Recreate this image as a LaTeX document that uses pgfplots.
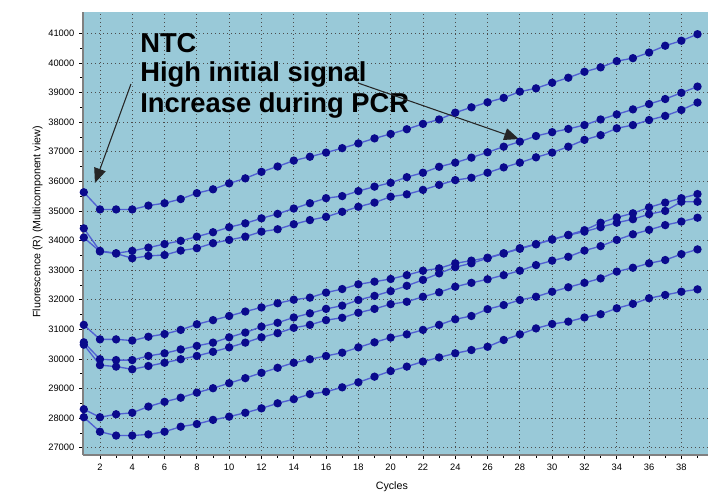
\documentclass[border=0pt]{standalone}
\usepackage{fontspec}
\setmainfont{Liberation Sans}
\usepackage{pgfplots}
\pgfplotsset{compat=1.18}
\usepackage{pgfplotstable}
\usetikzlibrary{arrows.meta}
\definecolor{bgblue}{RGB}{153,201,216}
\definecolor{mk}{RGB}{10,10,140}
\definecolor{ln}{RGB}{80,95,210}
\pgfplotstableread{
c  s1    s2    s3    s4    s5    s6    s7    s8
1  35630 34410 34100 31150 30560 30480 28300 28030
2  35050 33650 33630 30660 29990 29790 28030 27540
3  35050 33570 33560 30660 29960 29740 28130 27410
4  35050 33650 33400 30620 29960 29650 28180 27410
5  35180 33760 33480 30750 30100 29760 28390 27450
6  35260 33880 33510 30840 30190 29870 28550 27540
7  35400 33990 33660 30980 30320 29990 28690 27710
8  35600 34130 33740 31170 30440 30100 28860 27800
9  35730 34280 33910 31310 30550 30240 29010 27940
10 35930 34450 34020 31450 30730 30390 29180 28050
11 36100 34580 34130 31600 30890 30550 29350 28180
12 36320 34750 34300 31740 31090 30730 29530 28330
13 36500 34900 34380 31880 31220 30870 29700 28500
14 36700 35080 34550 32000 31400 31050 29870 28640
15 36830 35260 34690 32070 31540 31150 29990 28810
16 36970 35430 34800 32240 31690 31310 30100 28890
17 37120 35500 34970 32360 31800 31390 30210 29040
18 37280 35670 35140 32520 31990 31560 30390 29210
19 37450 35820 35280 32610 32130 31690 30560 29400
20 37600 35950 35480 32700 32290 31850 30720 29590
21 37760 36140 35560 32830 32470 31930 30830 29740
22 37940 36290 35710 32980 32670 32100 30980 29910
23 38090 36490 35880 33060 32890 32250 31150 30050
24 38320 36630 36040 33230 33100 32440 31340 30190
25 38500 36800 36120 33320 33230 32570 31450 30300
26 38670 36980 36290 33420 33400 32690 31680 30410
27 38820 37170 36470 33570 33560 32830 31820 30640
28 39030 37340 36630 33740 33720 32980 31990 30830
29 39140 37530 36810 33880 33870 33170 32100 31030
30 39330 37660 36970 34040 34030 33320 32270 31180
31 39500 37770 37170 34190 34180 33450 32420 31260
32 39700 37900 37400 34350 34300 33660 32570 31400
33 39850 38090 37560 34600 34450 33810 32720 31510
34 40060 38260 37790 34780 34600 34020 32950 31710
35 40160 38430 37900 34920 34720 34210 33080 31860
36 40350 38610 38070 35120 34890 34360 33230 32050
37 40580 38780 38210 35280 35000 34520 33340 32160
38 40750 38990 38410 35430 35310 34640 33540 32270
39 40970 39200 38660 35570 35310 34770 33700 32350
}\data
\begin{document}
\begin{tikzpicture}
\begin{axis}[name=ax, scale only axis, width=476.6pt, height=332.25pt,
  xmin=0.95, xmax=40.3, ymin=26753, ymax=41720,
  axis background/.style={fill=bgblue},
  axis x line*=bottom, axis y line*=left,
  axis line style={draw=gray, line width=1.2pt, -},
  xtick={2,4,...,40}, minor x tick num=1,
  ytick={27000,28000,...,41000}, minor y tick num=1,
  tick align=outside, major tick length=3pt, minor tick length=2pt,
  tick style={black, line width=0.6pt},
  grid=major, major grid style={draw=black!70, dash pattern=on 0.6pt off 2.4pt, line width=0.6pt},
  ticklabel style={font=\fontsize{7}{8}\selectfont},
  /pgf/number format/assume math mode=true,
  scaled y ticks=false,
  yticklabel style={/pgf/number format/set thousands separator={}},
  xlabel={Cycles}, ylabel={Fluorescence (R) (Multicomponent view)},
  label style={font=\fontsize{8}{9}\selectfont},
  xlabel style={at={(axis description cs:0.486,0)}, anchor=center, yshift=-24pt},
  ylabel style={at={(axis description cs:-0.0713,0.526)}, anchor=center},
]
\foreach \s in {s1,s2,s3,s4,s5,s6,s7,s8}{
  \addplot[ln, line width=1pt, mark=*, mark size=2.6pt, mark options={fill=mk, draw=mk}] table[x=c,y=\s]{\data};
}
\node[anchor=base west, inner sep=0, font=\bfseries\fontsize{20.5}{22}\selectfont] at (axis cs:4.48,40368) {NTC};
\node[anchor=base west, inner sep=0, font=\bfseries\fontsize{20.5}{22}\selectfont] at (axis cs:4.48,39355) {High initial signal};
\node[anchor=base west, inner sep=0, font=\bfseries\fontsize{20.5}{22}\selectfont] at (axis cs:4.48,38341) {Increase during PCR};
\draw[black!85, line width=0.8pt, -{Triangle[length=11pt,width=9pt]}] (axis cs:3.92,39287) -- (axis cs:1.69,35943);
\draw[black!85, line width=0.8pt, -{Triangle[length=11pt,width=9pt]}] (axis cs:17.98,39321) -- (axis cs:27.94,37429);
\end{axis}
\pgfresetboundingbox
\path[use as bounding box] ([xshift=-62.25pt,yshift=-30pt]ax.south west) rectangle ([xshift=-7.875pt,yshift=9pt]ax.north east);
\end{tikzpicture}
\end{document}
